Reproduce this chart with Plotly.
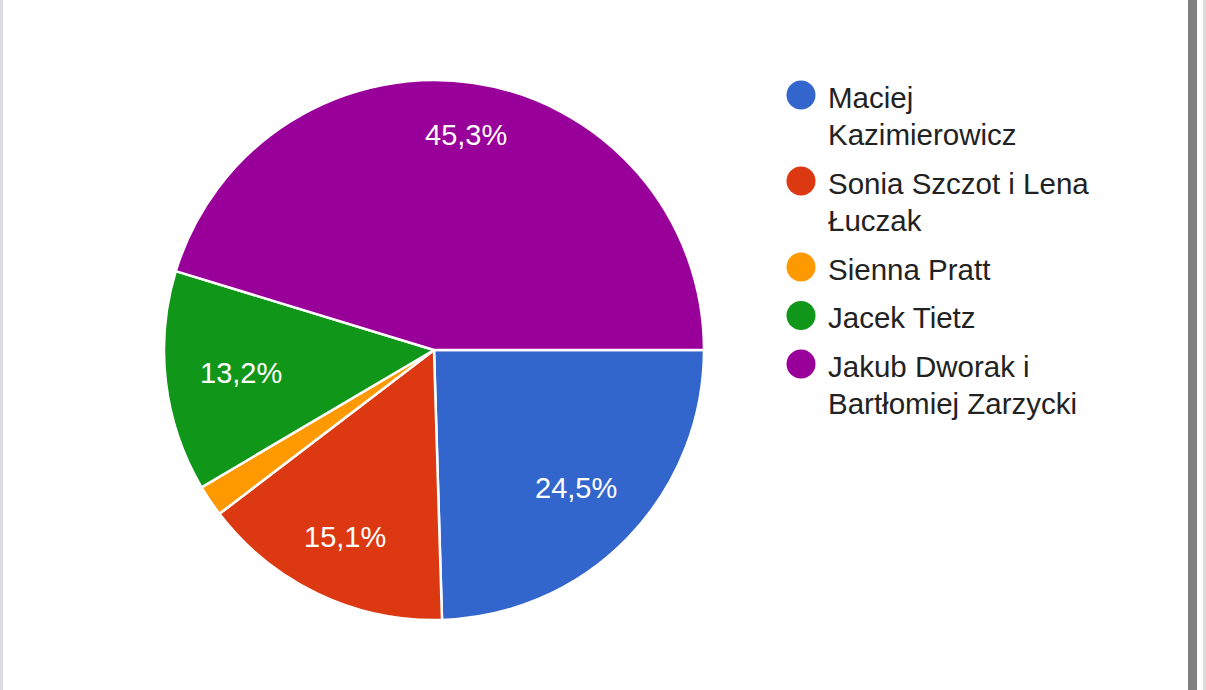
import math
import textwrap
import plotly.graph_objects as go

# ---- data ----
names = [
    "Maciej Kazimierowicz",
    "Sonia Szczot i Lena Łuczak",
    "Sienna Pratt",
    "Jacek Tietz",
    "Jakub Dworak i Bartłomiej Zarzycki",
]
votes = [13, 8, 1, 7, 24]
colors = ["#3366CC", "#DC3912", "#FF9900", "#109618", "#990099"]

# ---- layout constants (pixels) ----
W, H = 1206, 690
CX, CY, R = 434, 350, 270
FONT = "Liberation Sans, Arial, sans-serif"


def px(x):
    return x / W


def py(y):
    return 1 - y / H


fig = go.Figure()
fig.add_trace(go.Pie(
    labels=names,
    values=votes,
    marker=dict(colors=colors, line=dict(color="white", width=2.5)),
    sort=False,
    direction="clockwise",
    rotation=90,
    textinfo="none",
    hoverinfo="label+percent",
    showlegend=False,
    domain=dict(x=[px(CX - R), px(CX + R)], y=[py(CY + R), py(CY - R)]),
))

annotations = []
shapes = []

# percentage labels inside slices (small slices unlabeled)
total = sum(votes)
cum = 0
for v in votes:
    frac = v / total
    mid = (cum + frac / 2) * 2 * math.pi
    cum += frac
    if frac < 0.05:
        continue
    c, s = math.cos(mid), math.sin(mid)
    r = 237 - (abs(c) * 41 + abs(s) * 14)
    txt = f"{frac * 100:.1f}".replace(".", ",") + "%"
    annotations.append(dict(
        x=px(CX + r * c), y=py(CY + r * s), xref="paper", yref="paper",
        text=txt, showarrow=False, xanchor="center", yanchor="middle",
        font=dict(family=FONT, size=29, color="white"),
    ))

# legend (circles + wrapped names)
LEG_CX, LEG_TX = 801, 827
baseline = 107
LINE, GAP = 37.5, 48.5
for name, col in zip(names, colors):
    lines = textwrap.wrap(name, width=19)
    cy = baseline - 12
    shapes.append(dict(
        type="circle", xref="paper", yref="paper",
        xsizemode="pixel", ysizemode="pixel",
        xanchor=px(LEG_CX), yanchor=py(cy),
        x0=-14.5, x1=14.5, y0=-14.5, y1=14.5,
        fillcolor=col, line=dict(width=0),
    ))
    for i, ln in enumerate(lines):
        b = baseline + i * LINE
        annotations.append(dict(
            x=px(LEG_TX), y=py(b - 10), xref="paper", yref="paper",
            text=ln, showarrow=False, xanchor="left", yanchor="middle",
            borderpad=0, font=dict(family=FONT, size=29.5, color="#222222"),
        ))
    baseline += (len(lines) - 1) * LINE + GAP

# page border strips
for x0, x1, col in [(0, 3, "#DCDCE0"), (1188, 1197, "#808080"), (1203, W, "#DCDCE0")]:
    shapes.append(dict(type="rect", xref="paper", yref="paper",
                       x0=px(x0), x1=px(x1), y0=0, y1=1,
                       fillcolor=col, line=dict(width=0), layer="below"))

fig.update_layout(
    width=W, height=H,
    margin=dict(l=0, r=0, t=0, b=0),
    paper_bgcolor="white", plot_bgcolor="white",
    showlegend=False,
    annotations=annotations,
    shapes=shapes,
)

fig.write_html(
    "out.html",
    config={"displayModeBar": False},
    post_script="document.body.style.margin='0';document.body.style.overflow='hidden';",
)
